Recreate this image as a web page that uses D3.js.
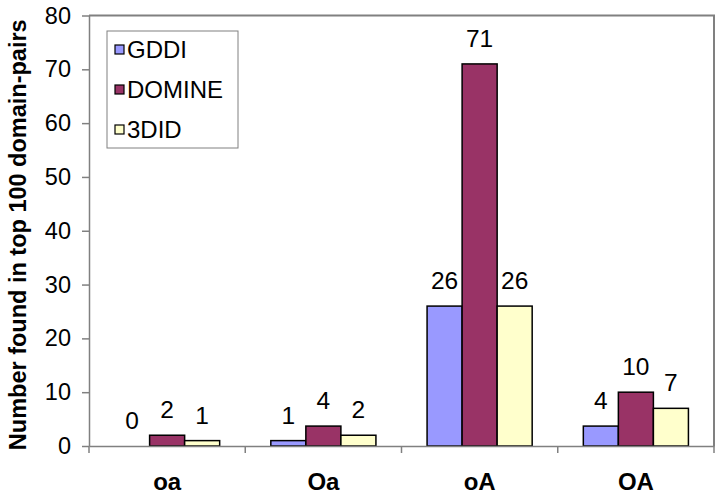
<!DOCTYPE html>
<html>
<head>
<meta charset="utf-8">
<script src="https://cdnjs.cloudflare.com/ajax/libs/d3/7.8.5/d3.min.js"></script>
<style>
  body { margin: 0; background: #fff; }
  svg { display: block; font-family: "Liberation Sans", Arial, sans-serif; }
</style>
</head>
<body>
<div class="chart"></div>
<script>
// DATA
var categories = ['oa', 'Oa', 'oA', 'OA'];
var seriesNames = ['GDDI', 'DOMINE', '3DID'];
var seriesColors = ['#9999ff', '#993366', '#ffffcc'];
// bar values per category (GDDI, DOMINE, 3DID)
var gddi = [0, 1, 26, 3.7];
var domine = [2, 3.7, 71, 10];
var threeDid = [1, 2, 26, 7];
var yTicks = [0, 10, 20, 30, 40, 50, 60, 70, 80];

var width = 722, height = 497;
var plotLeft = 89, plotRight = 714, plotTop = 15.5, plotBottom = 446;

var svg = d3.select('.chart').append('svg')
  .attr('width', width)
  .attr('height', height);

var values = [gddi, domine, threeDid];
var rows = categories.map(function (c, i) {
  return { cat: c, vals: values.map(function (s, j) { return { name: seriesNames[j], idx: j, v: s[i] }; }) };
});

var x0 = d3.scaleBand().domain(categories).range([plotLeft, plotRight]).padding(0);
var x1 = d3.scaleBand().domain(seriesNames).range([0, x0.bandwidth()]).paddingInner(0).paddingOuter(0.73);
var y = d3.scaleLinear().domain([0, 80]).range([plotBottom, plotTop]);

// plot area border (top, right)
svg.append('path')
  .attr('d', 'M' + plotLeft + ',' + plotTop + 'H' + plotRight + 'V' + plotBottom)
  .attr('fill', 'none')
  .attr('stroke', '#808080')
  .attr('stroke-width', 2);

// bars
var groups = svg.selectAll('g.cat')
  .data(rows)
  .enter()
  .append('g')
  .attr('class', 'cat')
  .attr('transform', function (d) { return 'translate(' + x0(d.cat) + ',0)'; });

groups.selectAll('rect')
  .data(function (d) { return d.vals; })
  .enter()
  .append('rect')
  .attr('x', function (d) { return x1(d.name); })
  .attr('y', function (d) { return y(d.v); })
  .attr('width', x1.bandwidth())
  .attr('height', function (d) { return y(0) - y(d.v); })
  .attr('fill', function (d) { return seriesColors[d.idx]; })
  .attr('stroke', '#000')
  .attr('stroke-width', 1.5);

// value labels
groups.selectAll('text.val')
  .data(function (d) { return d.vals; })
  .enter()
  .append('text')
  .attr('class', 'val')
  .attr('x', function (d) { return x1(d.name) + x1.bandwidth() / 2; })
  .attr('y', function (d) { return y(d.v) - 17; })
  .attr('text-anchor', 'middle')
  .attr('font-size', 24.5)
  .text(function (d) { return d3.format('.0f')(d.v); });

// y axis
var yAxis = svg.append('g')
  .attr('transform', 'translate(' + plotLeft + ',0)')
  .call(d3.axisLeft(y).tickValues(yTicks).tickSize(7).tickPadding(11).tickSizeOuter(0));
yAxis.selectAll('text').attr('font-size', 23.5).attr('fill', '#000').attr('font-family', 'Liberation Sans, Arial, sans-serif');

// x axis
var xAxis = svg.append('g')
  .attr('transform', 'translate(0,' + plotBottom + ')')
  .call(d3.axisBottom(x0).tickSize(0).tickSizeOuter(0).tickPadding(27));
xAxis.selectAll('text').attr('font-size', 24).attr('font-weight', 'bold').attr('fill', '#000')
  .attr('font-family', 'Liberation Sans, Arial, sans-serif');
// category boundary ticks
xAxis.selectAll('line.bound')
  .data(categories.map(function (c) { return x0(c); }).concat([plotRight]))
  .enter()
  .append('line')
  .attr('class', 'bound')
  .attr('x1', function (d) { return d; })
  .attr('x2', function (d) { return d; })
  .attr('y1', 0)
  .attr('y2', 7)
  .attr('stroke', '#808080')
  .attr('stroke-width', 1.5);

svg.selectAll('.domain, .tick line').attr('stroke', '#808080').attr('stroke-width', 1.5);

// y title
svg.append('text')
  .attr('transform', 'translate(26,' + ((plotTop + plotBottom) / 2 + 4) + ') rotate(-90)')
  .attr('text-anchor', 'middle')
  .attr('font-size', 23.5)
  .attr('font-weight', 'bold')
  .text('Number found in top 100 domain-pairs');

// legend
var legend = svg.append('g').attr('transform', 'translate(107,31)');
legend.append('rect')
  .attr('width', 131)
  .attr('height', 117)
  .attr('fill', '#fff')
  .attr('stroke', '#808080')
  .attr('stroke-width', 1);

var items = legend.selectAll('g.item')
  .data(seriesNames)
  .enter()
  .append('g')
  .attr('class', 'item')
  .attr('transform', function (d, i) { return 'translate(0,' + (19 + i * 40) + ')'; });

items.append('rect')
  .attr('x', 8)
  .attr('y', -5)
  .attr('width', 9)
  .attr('height', 9)
  .attr('fill', function (d, i) { return seriesColors[i]; })
  .attr('stroke', '#000')
  .attr('stroke-width', 1.2);

items.append('text')
  .attr('x', 20)
  .attr('y', 8)
  .attr('font-size', 24)
  .text(function (d) { return d; });
</script>
</body>
</html>
